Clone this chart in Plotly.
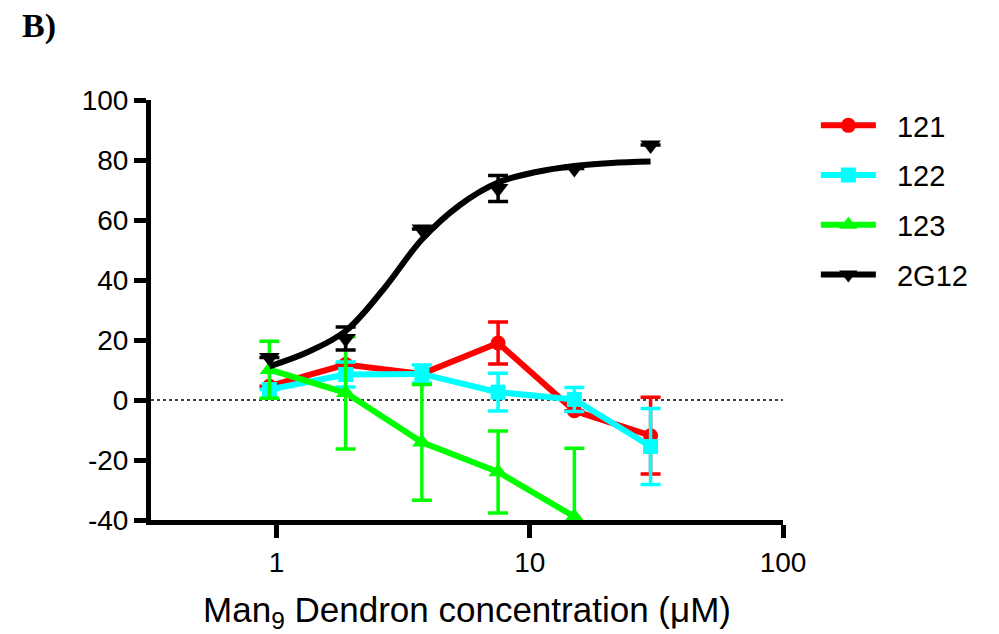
import plotly.graph_objects as go

# concentrations (µM)
conc = [0.9375, 1.875, 3.75, 7.5, 15, 30]

# series 121 (None = error bar hidden behind marker)
y121 = [4.6, 11.8, 8.7, 19.0, -3.6, -11.9]
e121 = [None, None, None, 7.0, None, 12.8]
# series 122
y122 = [3.5, 8.5, 8.7, 2.6, 0.2, -15.5]
e122 = [None, 4.2, 3.0, 6.3, 4.0, 12.7]
# series 123 (last concentration off-scale)
conc123 = [0.9375, 1.875, 3.75, 7.5, 15]
y123 = [10.1, 2.4, -14.1, -24.0, -38.9]
e123 = [9.5, 18.7, 19.3, 13.7, 22.8]
# series 2G12 (data points)
y2g12 = [14.2, 20.5, 57.0, 70.5, 77.2, 85.0]
e2g12 = [None, 3.8, None, 4.3, None, None]
# 2G12 fitted curve
curve_x = [0.9375, 1.33, 1.875, 2.65, 3.75, 5.3, 7.5, 10.6, 15, 21, 30]
curve_y = [11.2, 16.0, 23.0, 37.0, 53.5, 65.0, 72.5, 76.0, 78.0, 79.0, 79.5]

series_names = ["121", "122", "123", "2G12"]

x_ticks = [1, 10, 100]
x_ticklabels = ["1", "10", "100"]
y_ticks = [-40, -20, 0, 20, 40, 60, 80, 100]
y_ticklabels = ["-40", "-20", "0", "20", "40", "60", "80", "100"]

RED = "#ff0000"
CYAN = "#00ffff"
GREEN = "#00ff00"
BLACK = "#000000"

FONT = "Arial, Liberation Sans, sans-serif"
PAD = "\u00a0\u00a0"  # small gap between legend line and label

fig = go.Figure()

def add_series(x, y, e, color, symbol, name, size=15):
    fig.add_trace(go.Scatter(
        x=x, y=y, name=PAD + name, legendgroup=name,
        mode="lines+markers",
        line=dict(color=color, width=6),
        marker=dict(color=color, symbol=symbol, size=size),
        error_y=dict(type="data", array=e, visible=True, color=color,
                     thickness=3.5, width=10),
    ))

add_series(conc, y121, e121, RED, "circle", series_names[0], 15)
add_series(conc, y122, e122, CYAN, "square", series_names[1], 15)
add_series(conc123, y123, e123, GREEN, "triangle-up", series_names[2], 17)

# 2G12 data (markers with error bars)
fig.add_trace(go.Scatter(
    x=conc, y=y2g12, mode="markers", showlegend=False, legendgroup="2G12",
    marker=dict(color=BLACK, symbol="triangle-down", size=18),
    error_y=dict(type="data", array=e2g12, visible=True, color=BLACK,
                 thickness=3.5, width=10),
))
# 2G12 fitted curve
fig.add_trace(go.Scatter(
    x=curve_x, y=curve_y, mode="lines", showlegend=False, legendgroup="2G12",
    line=dict(color=BLACK, width=6, shape="spline"),
))
# legend entry for 2G12
fig.add_trace(go.Scatter(
    x=[None], y=[None], mode="lines+markers", name=PAD + series_names[3],
    legendgroup="2G12",
    line=dict(color=BLACK, width=6),
    marker=dict(color=BLACK, symbol="triangle-down", size=18),
))

# dotted zero line
fig.add_shape(type="line", xref="x domain", yref="y", x0=0, x1=1, y0=0, y1=0,
              line=dict(color=BLACK, width=1.5, dash="dot"), layer="below")

fig.update_xaxes(
    type="log", range=[-0.4955, 2.0], automargin=False,
    tickvals=x_ticks, ticktext=x_ticklabels,
    showgrid=False, zeroline=False,
    showline=True, linecolor=BLACK, linewidth=5,
    ticks="outside", ticklen=13, tickwidth=5, tickcolor=BLACK,
    tickfont=dict(family=FONT, size=28, color=BLACK),
    title=dict(text="Man<sub>9</sub> Dendron concentration (μM)",
               font=dict(family=FONT, size=35, color=BLACK), standoff=22),
)
fig.update_yaxes(
    range=[-40, 100], tickvals=y_ticks, ticktext=y_ticklabels, automargin=False,
    showgrid=False, zeroline=False,
    showline=True, linecolor=BLACK, linewidth=5,
    ticks="outside", ticklen=12, tickwidth=5, tickcolor=BLACK,
    tickfont=dict(family=FONT, size=28, color=BLACK),
)

fig.add_annotation(text="<b>B)</b>", xref="paper", yref="paper",
                   x=-0.208, y=1.225, xanchor="left", yanchor="top",
                   showarrow=False,
                   font=dict(family="Liberation Serif, Times New Roman, serif",
                             size=34, color=BLACK))

fig.update_layout(
    width=999, height=634,
    margin=dict(l=151, r=216, t=100, b=114),
    plot_bgcolor="white", paper_bgcolor="white",
    showlegend=True,
    legend=dict(x=1.052, y=1.0, xanchor="left", yanchor="top",
                font=dict(family=FONT, size=29, color=BLACK),
                tracegroupgap=9, itemwidth=55,
                bgcolor="rgba(0,0,0,0)"),
)

fig.write_html("out.html")
